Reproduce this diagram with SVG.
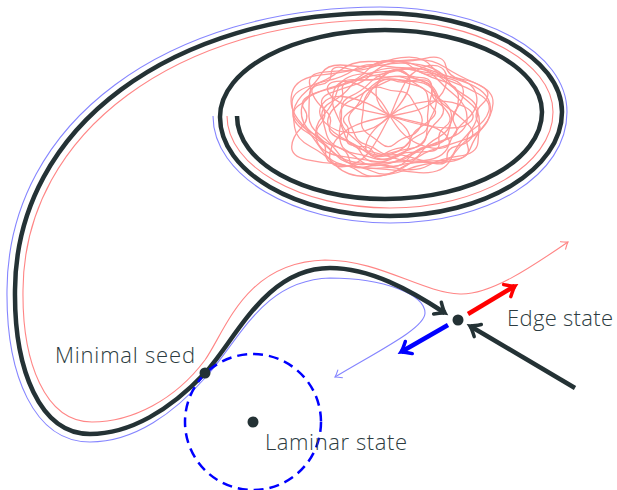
<svg xmlns="http://www.w3.org/2000/svg" width="617" height="490" viewBox="0 0 617 490">
<style>
.traj{fill:none;stroke:#243235;stroke-width:4.5}
.redt{fill:none;stroke:#ff8585;stroke-width:1.1}
.bluet{fill:none;stroke:#8585ff;stroke-width:1.1}
.tangle{fill:none;stroke:#ff9a9a;stroke-width:1.3;stroke-linejoin:round}
.thick{fill:none;stroke-width:4.5}
.lbl{font-family:"Open Sans","Liberation Sans",sans-serif;font-weight:300;font-size:22px;fill:#2c3b40}
.dot{fill:#243235}
</style>
<defs>
<marker id="ahDark" markerUnits="userSpaceOnUse" markerWidth="30" markerHeight="30" viewBox="-15 -15 30 30" refX="0" refY="0" orient="auto" overflow="visible"><path d="M-9,-7 Q-3,-1.5 0,0 Q-3,1.5 -9,7" fill="none" stroke="#243235" stroke-width="3.5" stroke-linecap="round"/></marker>
<marker id="ahRed" markerUnits="userSpaceOnUse" markerWidth="30" markerHeight="30" viewBox="-15 -15 30 30" refX="0" refY="0" orient="auto" overflow="visible"><path d="M-9,-7 Q-3,-1.5 0,0 Q-3,1.5 -9,7" fill="none" stroke="#ff0000" stroke-width="3.5" stroke-linecap="round"/></marker>
<marker id="ahBlue" markerUnits="userSpaceOnUse" markerWidth="30" markerHeight="30" viewBox="-15 -15 30 30" refX="0" refY="0" orient="auto" overflow="visible"><path d="M-9,-7 Q-3,-1.5 0,0 Q-3,1.5 -9,7" fill="none" stroke="#0000ff" stroke-width="3.5" stroke-linecap="round"/></marker>
<marker id="ahRedThin" markerUnits="userSpaceOnUse" markerWidth="20" markerHeight="20" viewBox="-10 -10 20 20" refX="0" refY="0" orient="auto" overflow="visible"><path d="M-6,-4.5 Q-2,-1 0,0 Q-2,1 -6,4.5" fill="none" stroke="#ff8585" stroke-width="1.1" stroke-linecap="round"/></marker>
<marker id="ahBlueThin" markerUnits="userSpaceOnUse" markerWidth="20" markerHeight="20" viewBox="-10 -10 20 20" refX="0" refY="0" orient="auto" overflow="visible"><path d="M-6,-4.5 Q-2,-1 0,0 Q-2,1 -6,4.5" fill="none" stroke="#8585ff" stroke-width="1.1" stroke-linecap="round"/></marker>
<path id="la" vector-effect="non-scaling-stroke" d="M91.5,10.5 Q83,21 78.5,33 Q74,45 53.5,46 Q33,47 16.5,53.5 Q0,60 -21,60.5 Q-42,61 -53,49.5 Q-64,38 -78,30.5 Q-92,23 -93.5,11.5 Q-95,0 -96,-12 Q-97,-24 -78.5,-30 Q-60,-36 -49,-45.5 Q-38,-55 -19,-54.5 Q0,-54 20,-56 Q40,-58 53.5,-49 Q67,-40 84.5,-32.5 Q102,-25 101,-12.5 Q100,0 91.5,10.5 Z"/>
<path id="lb" vector-effect="non-scaling-stroke" d="M84.5,12 Q69,24 62,40.5 Q55,57 27.5,55.5 Q0,54 -26.5,54.5 Q-53,55 -63.5,40.5 Q-74,26 -87,13 Q-100,0 -97.5,-16.5 Q-95,-33 -67.5,-37.5 Q-40,-42 -20,-51 Q0,-60 22.5,-53.5 Q45,-47 70,-40 Q95,-33 97.5,-16.5 Q100,0 84.5,12 Z"/>
<path id="ld" vector-effect="non-scaling-stroke" d="M89,8 Q78,16 82.5,27.5 Q87,39 70,42 Q53,45 38.5,45.5 Q24,46 12,55.5 Q0,65 -14,59.5 Q-28,54 -46.5,54.5 Q-65,55 -65,42 Q-65,29 -77.5,23.5 Q-90,18 -97.5,9 Q-105,0 -93,-8 Q-81,-16 -85,-28 Q-89,-40 -71,-42.5 Q-53,-45 -39,-46 Q-25,-47 -12.5,-54.5 Q0,-62 16.5,-63 Q33,-64 41.5,-53.5 Q50,-43 63.5,-39 Q77,-35 91,-28 Q105,-21 102.5,-10.5 Q100,0 89,8 Z"/>
<path id="pc" vector-effect="non-scaling-stroke" d="M0,0 C20,-22 55,-26 75,-12 C92,0 80,16 60,16 C38,16 18,8 0,0 Z"/>
<path id="pe" vector-effect="non-scaling-stroke" d="M0,0 C25,-12 50,-30 70,-20 C88,-10 70,8 50,12 C30,16 12,6 0,0 Z"/>
</defs>

<g id="chaotic-tangle" class="tangle" transform="translate(390,116)">
<use href="#la" transform="scale(1.02,1)"/>
<use href="#la" transform="rotate(7) scale(0.86,0.9)"/>
<use href="#la" transform="rotate(-9) scale(0.7,0.78)"/>
<use href="#la" transform="rotate(160) scale(0.55,0.7)"/>
<use href="#la" transform="rotate(190) scale(0.95,0.92)"/>
<use href="#la" transform="rotate(-20) scale(0.42,0.6)"/>
<use href="#lb" transform="rotate(4) scale(1.02,0.98)"/>
<use href="#lb" transform="rotate(-5) scale(0.9,0.85)"/>
<use href="#lb" transform="rotate(172) scale(0.78,0.82)"/>
<use href="#lb" transform="rotate(14) scale(0.62,0.72)"/>
<use href="#lb" transform="rotate(-14) scale(0.5,0.66)"/>
<use href="#lb" transform="rotate(35) scale(0.32,0.5)"/>
<use href="#ld" transform="rotate(3) scale(0.96,0.95)"/>
<use href="#ld" transform="rotate(-12) scale(0.75,0.82)"/>
<use href="#ld" transform="rotate(185) scale(0.6,0.75)"/>
<use href="#ld" transform="rotate(20) scale(0.82,0.7)"/>
<use href="#ld" transform="rotate(168) scale(1,0.9)"/>
<use href="#ld" transform="rotate(-30) scale(0.5,0.55)"/>
<g transform="scale(1,0.75)">
<use href="#pc" transform="rotate(0)"/>
<use href="#pe" transform="rotate(41) scale(0.9,0.8)"/>
<use href="#pc" transform="rotate(97) scale(0.7,1.2)"/>
<use href="#pe" transform="rotate(139) scale(1.1)"/>
<use href="#pc" transform="rotate(186) scale(0.85,1.3)"/>
<use href="#pe" transform="rotate(222) scale(0.95,0.9)"/>
<use href="#pc" transform="rotate(277) scale(0.75,0.9)"/>
<use href="#pe" transform="rotate(318) scale(1.05,1.2)"/>
</g>
</g>

<g id="connectors">
<path id="blue-path" class="bluet" marker-end="url(#ahBlueThin)" d="M213,116 C213,176 294,223 390,223 C490,223 567,175 567,112 C567,52 483,7 380,7 C170,7 8,120 7,290 C6,375 34,442 90,442 C135,442 175,412 205,378 C240,340 262,280 330,278 C385,278 425,295 425,313 C425,328 380,350 335,377"/>
<path id="red-path" class="redt" marker-end="url(#ahRedThin)" d="M227,116 C227,166 300,208 390,208 C478,208 553,165 553,112 C553,62 476,20 380,20 C182,20 24,130 23,290 C22,362 45,422 92,422 C132,422 175,400 205,360 C226,330 245,262 325,260 C380,260 420,292 460,294 C490,295 530,268 568,242"/>
<path id="main-trajectory" class="traj" marker-end="url(#ahDark)" d="M237,116 C237,162 303,199 385,199 C472,199 542,160 542,112 C542,67 472,30 385,30 C294,30 220,69 220,117 C220,171.7 296,216 390,216 C485,216 562,169 562,112 C562,57 480,13 380,13 C175,13 16,125 15,290 C14,370 40,434 90,434 C130,434 170,410 205,373 C235,341 265,268 330,268 C370,268 410,290 445,313"/>
<line class="thick" stroke="#ff0000" marker-end="url(#ahRed)" x1="468" y1="314" x2="515" y2="286"/>
<line class="thick" stroke="#0000ff" marker-end="url(#ahBlue)" x1="448" y1="325" x2="401" y2="352"/>
<line class="thick" stroke="#243235" marker-end="url(#ahDark)" x1="575" y1="388" x2="470" y2="326"/>
</g>

<g id="laminar-state">
<circle cx="253" cy="422" r="68" fill="none" stroke="#0000ff" stroke-width="2.5" stroke-dasharray="10 6"/>
<circle class="dot" cx="253" cy="422" r="5.5"/>
<text class="lbl" x="265" y="450" textLength="142">Laminar state</text>
</g>
<g id="minimal-seed">
<circle class="dot" cx="205" cy="373" r="5.5"/>
<text class="lbl" x="55" y="363" textLength="140">Minimal seed</text>
</g>
<g id="edge-state">
<circle class="dot" cx="458" cy="320" r="5.5"/>
<text class="lbl" x="507" y="326" textLength="106">Edge state</text>
</g>
</svg>
